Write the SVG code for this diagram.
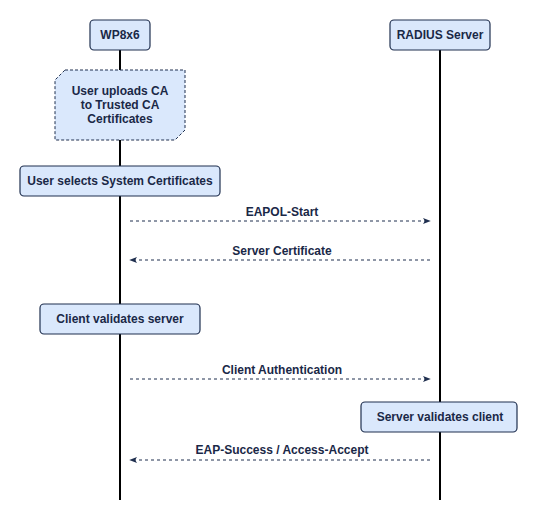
<svg xmlns="http://www.w3.org/2000/svg" width="541" height="516" viewBox="0 0 541 516">
<defs>
<style>
.box{fill:#dae8fc;stroke:#1f2f4f;stroke-width:1.2}
.note{fill:#dae8fc;stroke:#1f2f4f;stroke-width:1;stroke-dasharray:3,2}
.life{stroke:#000;stroke-width:2;fill:none}
.msg{stroke:#1f2f4f;stroke-width:1;stroke-dasharray:3,3;fill:none}
text{font-family:"Liberation Sans",Arial,sans-serif;font-size:12px;font-weight:bold;fill:#1a2847;text-anchor:middle}
</style>
<marker id="ah" viewBox="0 0 10 10" refX="9" refY="5" markerWidth="8" markerHeight="8" markerUnits="userSpaceOnUse" orient="auto">
<path d="M0,1 L10,5 L0,9 L2.5,5 Z" fill="#1f2f4f"/>
</marker>
</defs>
<rect width="541" height="516" fill="#fff"/>
<g id="lifelines">
<line class="life" x1="120" y1="50" x2="120" y2="500"/>
<line class="life" x1="440" y1="50" x2="440" y2="500"/>
</g>
<g id="connectors">
<line class="msg" x1="130" y1="221" x2="430" y2="221" marker-end="url(#ah)"/>
<line class="msg" x1="430" y1="260" x2="130" y2="260" marker-end="url(#ah)"/>
<line class="msg" x1="130" y1="379" x2="430" y2="379" marker-end="url(#ah)"/>
<line class="msg" x1="430" y1="460" x2="130" y2="460" marker-end="url(#ah)"/>
<text x="282" y="216">EAPOL-Start</text>
<text x="282" y="255">Server Certificate</text>
<text x="282" y="374">Client Authentication</text>
<text x="282" y="454">EAP-Success / Access-Accept</text>
</g>
<g id="wp8x6">
<rect class="box" x="90" y="20" width="60" height="30" rx="4"/>
<text x="120" y="39">WP8x6</text>
</g>
<g id="radius">
<rect class="box" x="390" y="20" width="100" height="30" rx="4"/>
<text x="440" y="39">RADIUS Server</text>
</g>
<g id="note-upload">
<path class="note" d="M65,70 H185 V130 L175,140 H55 V80 Z"/>
<text x="120" y="95">User uploads CA</text>
<text x="120" y="109">to Trusted CA</text>
<text x="120" y="123">Certificates</text>
</g>
<g id="select-certs">
<rect class="box" x="20" y="166" width="200" height="30" rx="4"/>
<text x="120" y="185">User selects System Certificates</text>
</g>
<g id="client-validates">
<rect class="box" x="40" y="304" width="160" height="30" rx="4"/>
<text x="120" y="323">Client validates server</text>
</g>
<g id="server-validates">
<rect class="box" x="361" y="402" width="156" height="30" rx="4"/>
<text x="440" y="421">Server validates client</text>
</g>
</svg>
